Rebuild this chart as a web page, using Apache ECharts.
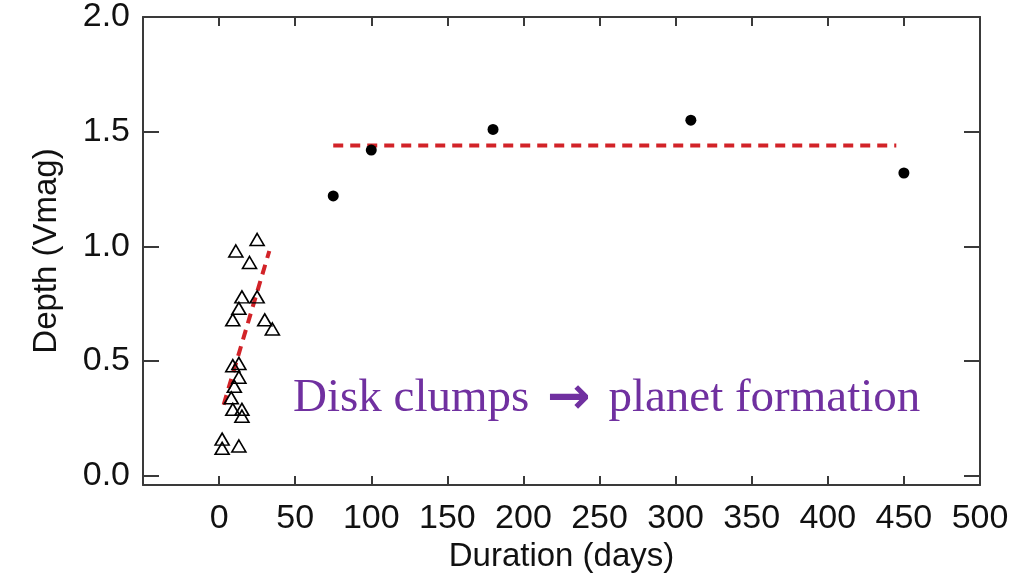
<!DOCTYPE html>
<html>
<head>
<meta charset="utf-8">
<script src="https://cdn.jsdelivr.net/npm/echarts@6/dist/echarts.min.js"></script>
<style>
  html, body { margin: 0; padding: 0; background: #fff; }
  #chart { width: 1024px; height: 584px; }
</style>
</head>
<body>
<div id="chart"></div>
<script>
// Short-duration dimming events (open triangles)
const shortDurations = [25, 11, 20, 15, 25, 13, 9, 30, 35, 9, 13, 13, 10, 8, 9, 15, 15, 2, 2, 13];
const shortDepths = [1.03, 0.98, 0.93, 0.78, 0.78, 0.73, 0.68, 0.68, 0.64, 0.48, 0.49, 0.43, 0.39, 0.34, 0.29, 0.29, 0.26, 0.16, 0.12, 0.13];

// Long-duration dimming events (filled dots)
const longDurations = [75, 100, 180, 310, 450];
const longDepths = [1.22, 1.42, 1.51, 1.55, 1.32];

// Trend lines (red dashed)
const shortFitX = [3, 33];
const shortFitY = [0.31, 0.98];
const longFitX = [75, 445];
const longFitY = [1.44, 1.44];

// Tick values
const xTicks = [0, 50, 100, 150, 200, 250, 300, 350, 400, 450, 500];
const yTicks = [0.0, 0.5, 1.0, 1.5, 2.0];

const zip = (xs, ys) => xs.map((x, i) => [x, ys[i]]);

const FONT = '"Liberation Sans", Arial, Helvetica, sans-serif';
const FRAME = '#3a3a3a';
const RED = '#d22328';

const frameLine = { show: true, onZero: false, lineStyle: { color: FRAME, width: 2 } };

function xAxisDef(pos, withLabels) {
  return {
    type: 'value', position: pos, min: -50, max: 500,
    axisLine: frameLine,
    axisTick: { show: true, inside: true, length: 9, customValues: xTicks, lineStyle: { color: FRAME, width: 2 } },
    axisLabel: withLabels
      ? { show: true, customValues: xTicks, fontSize: 34, fontFamily: FONT, color: '#111', margin: 17 }
      : { show: false },
    splitLine: { show: false },
    name: withLabels ? 'Duration (days)' : '',
    nameLocation: 'middle', nameGap: 54,
    nameTextStyle: { fontSize: 33, fontFamily: FONT, color: '#111' }
  };
}

function yAxisDef(pos, withLabels) {
  return {
    type: 'value', position: pos, min: -0.04, max: 2.0,
    axisLine: frameLine,
    axisTick: { show: true, inside: true, length: 16, customValues: yTicks, lineStyle: { color: FRAME, width: 2 } },
    axisLabel: withLabels
      ? { show: true, customValues: yTicks, fontSize: 34, fontFamily: FONT, color: '#111', margin: 13,
          formatter: v => v.toFixed(1) }
      : { show: false },
    splitLine: { show: false },
    name: withLabels ? 'Depth (Vmag)' : '',
    nameLocation: 'middle', nameGap: 80, nameRotate: 90,
    nameTextStyle: { fontSize: 33, fontFamily: FONT, color: '#111' }
  };
}

const chart = echarts.init(document.getElementById('chart'), null, { renderer: 'canvas' });

chart.setOption({
  animation: false,
  backgroundColor: '#fff',
  grid: { left: 143, right: 44, top: 16, bottom: 99 },
  xAxis: [xAxisDef('bottom', true), xAxisDef('top', false)],
  yAxis: [yAxisDef('left', true), yAxisDef('right', false)],
  series: [
    {
      type: 'line', data: zip(shortFitX, shortFitY), symbol: 'none', silent: true,
      lineStyle: { color: RED, width: 4, type: [10, 7] }, z: 2
    },
    {
      type: 'line', data: zip(longFitX, longFitY), symbol: 'none', silent: true,
      lineStyle: { color: RED, width: 4, type: [10, 7] }, z: 2
    },
    {
      type: 'scatter', data: zip(shortDurations, shortDepths),
      symbol: 'triangle', symbolSize: [14, 12],
      itemStyle: { color: 'rgba(0,0,0,0)', borderColor: '#000', borderWidth: 1.6, opacity: 1 }, z: 3
    },
    {
      type: 'scatter', data: zip(longDurations, longDepths),
      symbol: 'circle', symbolSize: 11,
      itemStyle: { color: '#000', opacity: 1 }, z: 3
    }
  ],
  graphic: [
    {
      type: 'text', left: 293, top: 373, z: 10,
      style: {
        text: '{t|Disk clumps }{a|\u2192}{t| planet formation}',
        rich: {
          t: { fontSize: 47, fontFamily: '"Liberation Serif", "Times New Roman", serif', fill: '#7030a0', color: '#7030a0' },
          a: { fontSize: 52, fontWeight: 'bold', fontFamily: '"DejaVu Sans", sans-serif', fill: '#7030a0', color: '#7030a0',
               padding: [0, 6, 0, 6] }
        }
      }
    }
  ]
});
</script>
</body>
</html>
